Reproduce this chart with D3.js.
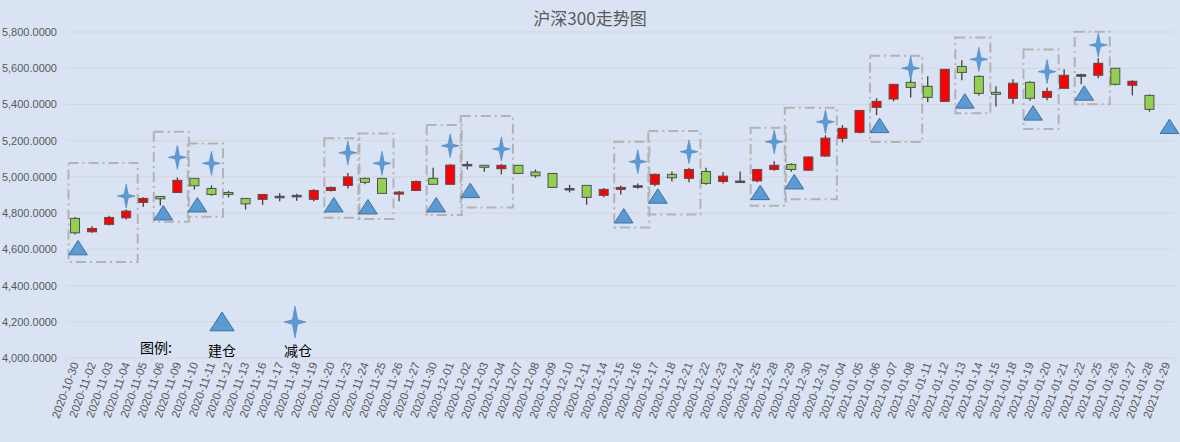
<!DOCTYPE html><html><head><meta charset="utf-8"><script src="https://cdn.jsdelivr.net/npm/d3@7"></script>
<style>body{margin:0;background:#DAE3F3}svg{font-family:"Microsoft YaHei","Noto Sans CJK SC",sans-serif}</style></head><body><svg id="c" width="1180" height="442"></svg><script>
const dates=["2020-10-30","2020-11-02","2020-11-03","2020-11-04","2020-11-05","2020-11-06","2020-11-09","2020-11-10","2020-11-11","2020-11-12","2020-11-13","2020-11-16","2020-11-17","2020-11-18","2020-11-19","2020-11-20","2020-11-23","2020-11-24","2020-11-25","2020-11-26","2020-11-27","2020-11-30","2020-12-01","2020-12-02","2020-12-03","2020-12-04","2020-12-07","2020-12-08","2020-12-09","2020-12-10","2020-12-11","2020-12-14","2020-12-15","2020-12-16","2020-12-17","2020-12-18","2020-12-21","2020-12-22","2020-12-23","2020-12-24","2020-12-25","2020-12-28","2020-12-29","2020-12-30","2020-12-31","2021-01-04","2021-01-05","2021-01-06","2021-01-07","2021-01-08","2021-01-11","2021-01-12","2021-01-13","2021-01-14","2021-01-15","2021-01-18","2021-01-19","2021-01-20","2021-01-21","2021-01-22","2021-01-25","2021-01-26","2021-01-27","2021-01-28","2021-01-29"];
const open=[4771,4697,4738,4774,4859,4892,4914,4992,4936,4914,4881,4876,4893,4898,4876,4925,4953,4992,4992,4905,4925,4992,4959,5069,5064,5045,5064,5027,5019,4936,4953,4898,4931,4950,4959,5014,4992,5030,4975,4977,4978,5041,5069,5037,5115,5213,5246,5384,5430,5522,5500,5417,5610,5555,5467,5434,5522,5439,5489,5563,5561,5600,5506,5450,null];
const close=[4691,4715,4776,4811,4881,4879,4981,4951,4903,4903,4851,4903,4892,4897,4925,4942,5000,4970,4909,4916,4975,4959,5065,5068,5053,5064,5019,5006,4942,4935,4887,4931,4942,4951,5014,4995,5041,4964,5004,4976,5041,5064,5041,5110,5214,5268,5367,5417,5511,5494,5439,5594,5577,5461,5456,5517,5434,5472,5561,5564,5627,5511,5528,5373,null];
const high=[4779,4728,4785,4820,4887,4892,4997,4992,4953,4923,4881,4903,4909,4907,4933,4947,5022,4997,4992,4922,4980,5050,5071,5087,5064,5071,5064,5041,5019,4956,4953,4938,4953,4964,5019,5030,5050,5050,5027,5030,5041,5087,5075,5113,5230,5286,5367,5435,5511,5544,5555,5594,5644,5561,5500,5539,5528,5494,5594,5570,5655,5600,5533,5455,null];
const low=[4682,4691,4732,4765,4835,4842,4914,4930,4896,4887,4820,4845,4866,4868,4865,4920,4936,4959,4909,4866,4922,4959,4959,5041,5028,5014,5019,4995,4942,4914,4846,4887,4903,4934,4948,4975,4970,4956,4964,4975,4970,5034,5028,5034,5110,5191,5240,5341,5417,5439,5412,5417,5533,5450,5389,5404,5420,5423,5489,5511,5544,5505,5450,5360,null];
const buyIdx=[0,5,7,15,17,21,23,32,34,40,42,47,52,56,59,64];
const buyVal=[4607,4800,4844,4844,4833,4844,4923,4783,4892,4912,4971,5282,5417,5351,5461,5277];
const sellIdx=[3,6,8,16,18,22,25,33,36,41,44,49,53,57,60];
const sellVal=[4894,5108,5075,5133,5075,5172,5154,5084,5139,5194,5304,5600,5649,5581,5728];
const boxStart=[0,5,7,15,17,21,23,32,34,40,42,47,52,56,59];
const boxEnd=[3,6,8,16,18,22,25,33,36,41,44,49,53,57,60];
const boxTop=[5077,5249,5185,5213,5240,5286,5336,5194,5254,5271,5382,5669,5769,5704,5802];
const boxBot=[4530,4752,4780,4775,4767,4789,4831,4721,4792,4840,4877,5192,5351,5264,5401];
const yTicks=[4000,4200,4400,4600,4800,5000,5200,5400,5600,5800];

const svg=d3.select("#c");
const x=d3.scaleBand().domain(dates).range([66.5,1175]);
const y=d3.scaleLinear().domain([4000,5800]).range([358,32]);
const cx=i=>x(dates[i])+x.bandwidth()/2;
const fmt=v=>d3.format(",.4f")(v);
svg.append("text").attr("x",590).attr("y",25).attr("text-anchor","middle").attr("font-size",17).attr("fill","#595959").text("沪深300走势图");
svg.append("g").selectAll("line").data(yTicks).join("line").attr("x1",66.5).attr("x2",1175).attr("y1",d=>y(d)).attr("y2",d=>y(d)).attr("stroke","#d3d6dc").attr("stroke-width",1);
svg.append("g").selectAll("text").data(yTicks).join("text").attr("x",57).attr("y",d=>y(d)+4).attr("text-anchor","end").attr("font-size",11).attr("fill","#595959").attr("font-family","Liberation Sans, Arial").text(fmt);
svg.append("g").selectAll("line").data(dates.concat(["_end"])).join("line").attr("x1",(d,i)=>66.5+i*x.step()).attr("x2",(d,i)=>66.5+i*x.step()).attr("y1",358).attr("y2",362).attr("stroke","#d3d6dc");
svg.append("g").selectAll("text").data(dates).join("text").attr("transform",(d,i)=>`translate(${cx(i)+4},364) rotate(-70)`).attr("text-anchor","end").attr("font-size",11.5).attr("fill","#595959").attr("font-family","Liberation Sans, Arial").text(d=>d);
const bg=svg.append("g");
boxStart.forEach((s,k)=>{const x0=x(dates[s])+2,x1=x(dates[boxEnd[k]])+x.bandwidth()+3;
 bg.append("rect").attr("x",x0).attr("y",y(boxTop[k])).attr("width",x1-x0).attr("height",y(boxBot[k])-y(boxTop[k])).attr("fill","none").attr("stroke","#b3b3b3").attr("stroke-width",2).attr("stroke-dasharray","10,4,2,4");});
const cg=svg.append("g");
dates.forEach((d,i)=>{if(open[i]==null)return;const c=cx(i),o=open[i],cl=close[i];
 cg.append("line").attr("x1",c).attr("x2",c).attr("y1",y(high[i])).attr("y2",y(low[i])).attr("stroke","#404040").attr("stroke-width",1.3);
 const top=Math.min(y(o),y(cl)),h=Math.max(Math.abs(y(o)-y(cl)),1.5);
 cg.append("rect").attr("x",c-4.5).attr("width",9).attr("y",top).attr("height",h).attr("fill",Math.abs(o-cl)<3?"#404040":(cl>o?"#FF0000":"#92D050")).attr("stroke","#505050").attr("stroke-width",1);});
const tri=(g,c,yy,s)=>g.append("path").attr("d",`M${c},${yy-s*0.45}L${c+s*0.55},${yy+s*0.4}L${c-s*0.55},${yy+s*0.4}Z`).attr("fill","#5B9BD5").attr("stroke","#41719C").attr("stroke-width",1);
const star=(g,c,yy,w,h)=>g.append("path").attr("d",`M${c},${yy-h/2}L${c+w*0.12},${yy-h*0.07}L${c+w/2},${yy}L${c+w*0.12},${yy+h*0.07}L${c},${yy+h/2}L${c-w*0.12},${yy+h*0.07}L${c-w/2},${yy}L${c-w*0.12},${yy-h*0.07}Z`).attr("fill","#5B9BD5").attr("stroke","#4a86c0").attr("stroke-width",0.6);
const mg=svg.append("g");
buyIdx.forEach((b,k)=>tri(mg,cx(b)+3,y(buyVal[k]),17));
sellIdx.forEach((s,k)=>star(mg,cx(s),y(sellVal[k]),18,24));
svg.append("text").attr("x",140).attr("y",353).attr("font-size",14).attr("fill","#000").text("图例:");
tri(svg,222,322,22);
svg.append("text").attr("x",222).attr("y",356).attr("text-anchor","middle").attr("font-size",14).text("建仓");
star(svg,295,322,22,32);
svg.append("text").attr("x",298).attr("y",356).attr("text-anchor","middle").attr("font-size",14).text("减仓");
</script></body></html>
